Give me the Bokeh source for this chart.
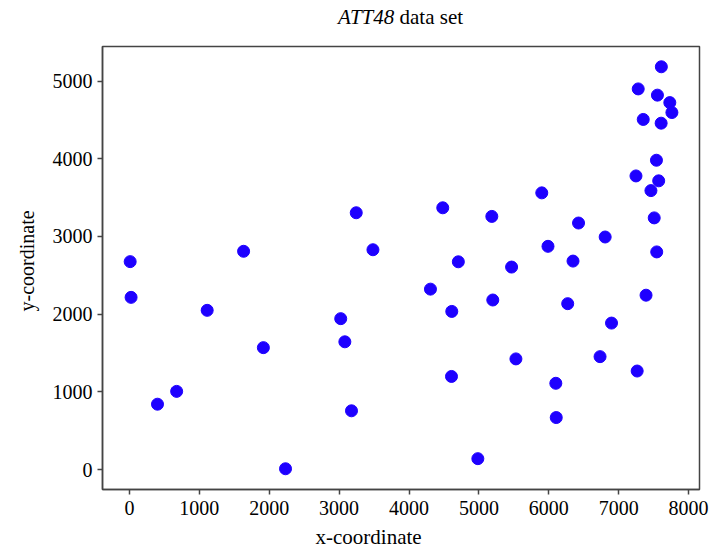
from bokeh.plotting import figure
from bokeh.models import Range1d, FixedTicker, Title, Div
from bokeh.layouts import column
from bokeh.embed import file_html
from bokeh.resources import INLINE

x_coord = [6734, 2233, 5530, 401, 3082, 7608, 7573, 7265, 6898, 1112, 5468, 5989,
           4706, 4612, 6347, 6107, 7611, 7462, 7732, 5900, 4483, 6101, 5199, 1633,
           4307, 675, 7555, 7541, 3177, 7352, 7545, 3245, 6426, 4608, 23, 7248,
           7762, 7392, 3484, 6271, 4985, 1916, 7280, 7509, 10, 6807, 5185, 3023]
y_coord = [1453, 10, 1424, 841, 1644, 4458, 3716, 1268, 1885, 2049, 2606, 2873,
           2674, 2035, 2683, 669, 5184, 3590, 4723, 3561, 3369, 1110, 2182, 2809,
           2322, 1006, 4819, 3981, 756, 4506, 2801, 3305, 3173, 1198, 2216, 3779,
           4595, 2244, 2829, 2135, 140, 1569, 4899, 3239, 2676, 2993, 3258, 1942]
x_ticks = [0, 1000, 2000, 3000, 4000, 5000, 6000, 7000, 8000]
y_ticks = [0, 1000, 2000, 3000, 4000, 5000]

FONT = "Liberation Serif"
TITLE_H = 36

title = Div(text="<i>ATT48</i> data set", width=597, height=TITLE_H,
            margin=(0, 0, 0, 102),
            styles={"font-family": FONT, "font-size": "21px", "line-height": "34px",
                    "text-align": "center", "color": "black", "width": "597px"})

p = figure(width=713, height=554 - TITLE_H, output_backend="svg", toolbar_location=None,
           x_range=Range1d(-386, 8157), y_range=Range1d(-257, 5445),
           min_border_left=102, min_border_right=14, min_border_top=46 - TITLE_H,
           min_border_bottom=64)

p.scatter(x_coord, y_coord, size=12, fill_color="#1e00ff", line_color="#1e00ff")

p.xgrid.visible = False
p.ygrid.visible = False
p.outline_line_color = "#444444"
p.outline_line_width = 1.5
p.background_fill_color = "white"
p.border_fill_color = "white"

for ax, ticks in ((p.xaxis[0], x_ticks), (p.yaxis[0], y_ticks)):
    ax.ticker = FixedTicker(ticks=ticks)
    ax.major_label_text_font = FONT
    ax.major_label_text_font_size = "20px"
    ax.major_label_text_color = "black"
    ax.axis_line_color = "#444444"
    ax.axis_line_width = 1.5
    ax.major_tick_line_color = "#444444"
    ax.major_tick_line_width = 1.5
    ax.major_tick_in = 0
    ax.major_tick_out = 5
    ax.minor_tick_line_color = None

p.xaxis[0].major_label_standoff = 6
p.yaxis[0].major_label_standoff = 5

p.add_layout(Title(text="x-coordinate", text_font=FONT, text_font_size="21px",
                   text_font_style="normal", text_color="black", align="left",
                   offset=213, standoff=11), "below")
p.add_layout(Title(text="y-coordinate", text_font=FONT, text_font_size="20px",
                   text_font_style="normal", text_color="black", align="left",
                   offset=178, standoff=24), "left")

open("out.html", "w").write(file_html(column(title, p, spacing=0), INLINE))
